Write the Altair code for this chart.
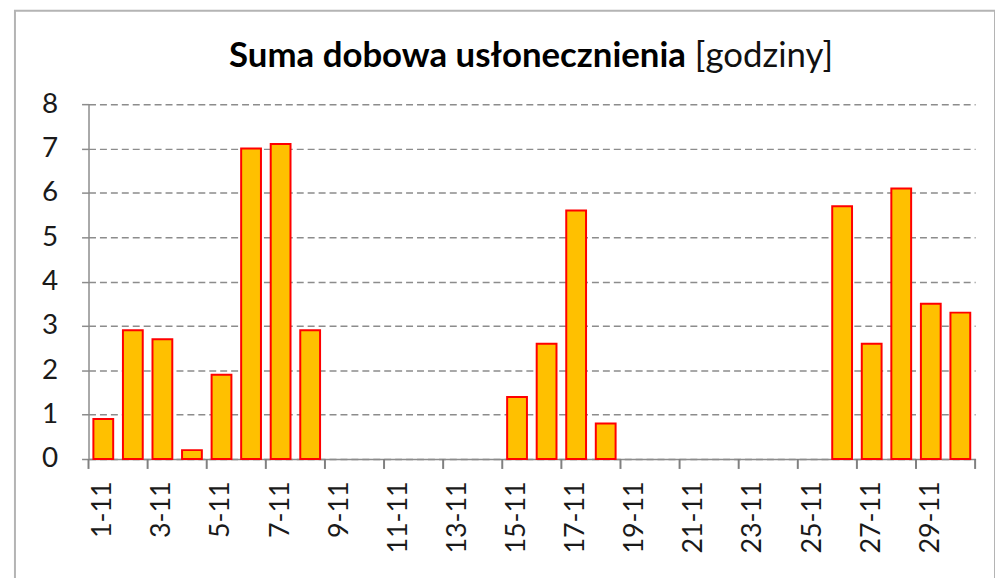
import altair as alt
import pandas as pd

days = [f"{d}-11" for d in range(1, 31)]
hours = [0.9, 2.9, 2.7, 0.2, 1.9, 7.0, 7.1, 2.9,
         0, 0, 0, 0, 0, 0,
         1.4, 2.6, 5.6, 0.8,
         0, 0, 0, 0, 0, 0, 0,
         5.7, 2.6, 6.1, 3.5, 3.3]
label_days = days[::2]
tick_days = days[::2]
end_tick_days = [days[-1]]
y_ticks = [0, 1, 2, 3, 4, 5, 6, 7, 8]
title_bold = "Suma dobowa usłonecznienia"
title_unit = "[godziny]"

W, H = 892, 357
FONT = "Lato"
GRID = "#8c8c8c"

df = pd.DataFrame({"day": days, "hours": hours})
x_scale = alt.Scale(domain=days, paddingInner=0, paddingOuter=0)
x_axis = alt.Axis(values=label_days, ticks=False, tickSize=0, labelAngle=-90,
                  labelPadding=22, labelFontSize=27, labelColor="#1a1a1a",
                  labelFont=FONT, domainColor=GRID, domainWidth=1.5,
                  labelOverlap=False, grid=False, title=None)

bars = alt.Chart(df).transform_filter("datum.hours > 0").mark_bar(
    width=alt.RelativeBandSize(0.67), color="#FFC000", stroke="#FF0000", strokeWidth=2
).encode(
    x=alt.X("day:N", scale=x_scale, sort=None, axis=x_axis),
    y=alt.Y("hours:Q", scale=alt.Scale(domain=[0, 8], nice=False),
            axis=alt.Axis(values=y_ticks, tickSize=10, tickDash=[7, 4], tickColor=GRID,
                          tickWidth=1.5, labelPadding=21, labelFontSize=28,
                          labelColor="#1a1a1a", labelFont=FONT, domainColor=GRID,
                          domainWidth=1.5, grid=True, gridDash=[7, 4], gridColor=GRID,
                          gridWidth=1.5, title=None)),
)

ticks = alt.Chart(pd.DataFrame({"day": tick_days})).mark_rule(color="#808080", strokeWidth=2).encode(
    x=alt.X("day:N", scale=x_scale, sort=None, bandPosition=0, axis=x_axis),
    y=alt.value(H), y2=alt.value(H + 10),
)
end_ticks = alt.Chart(pd.DataFrame({"day": end_tick_days})).mark_rule(color="#808080", strokeWidth=2).encode(
    x=alt.X("day:N", scale=x_scale, sort=None, bandPosition=1, axis=x_axis),
    y=alt.value(H), y2=alt.value(H + 10),
)

t_bold = alt.Chart(pd.DataFrame({"t": [title_bold]})).mark_text(
    font=FONT, fontSize=35, fontWeight="bold", color="#000000", align="right", baseline="alphabetic"
).encode(text="t:N", x=alt.value(601), y=alt.value(-37))
t_unit = alt.Chart(pd.DataFrame({"t": [title_unit]})).mark_text(
    font=FONT, fontSize=35, fontWeight="normal", color="#111111", align="left", baseline="alphabetic"
).encode(text="t:N", x=alt.value(610), y=alt.value(-37))

frame = alt.Chart(pd.DataFrame({"f": [1]})).mark_rect(
    fillOpacity=0, stroke="#b4b4b4", strokeWidth=2
).encode(x=alt.value(-74), x2=alt.value(912), y=alt.value(-94), y2=alt.value(600))

chart = alt.layer(frame, bars, t_bold, t_unit, ticks, end_ticks).properties(
    width=W, height=H,
    autosize=alt.AutoSizeParams(type="none"),
    padding={"left": 81, "top": 95, "right": 20, "bottom": 120},
    background="white",
).configure_view(stroke=None)

chart.save("out.html", embed_options={"renderer": "svg", "actions": False})
